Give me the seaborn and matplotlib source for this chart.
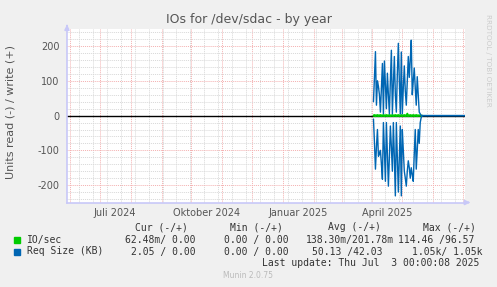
import matplotlib
matplotlib.use("Agg")
import matplotlib.pyplot as plt
import matplotlib.dates as mdates
from matplotlib.ticker import MultipleLocator, NullFormatter, FuncFormatter
from matplotlib.patches import Rectangle
import seaborn as sns
import pandas as pd

# ---------------- data ----------------
TITLE = "IOs for /dev/sdac - by year"
YLABEL = "Units read (-) / write (+)"
X_START = "2024-05-29"
X_END = "2025-07-03"

# daily samples (Apr 2 2025 .. May 21 2025), then flat to end
DATA_START = "2025-04-02"
DATA_END = "2025-05-21"
TAIL_DATE = "2025-07-03"

req_write = [40, 110, 184, 30, 100, 84, 60, 10, 80, 150,
             5, 157, 90, 20, 122, 60, 5, 100, 188, 5,
             90, 170, 60, 10, 120, 208, 100, 5, 183, 5,
             80, 143, 70, 30, 100, 170, 110, 160, 217, 60,
             100, 137, 80, 30, 112, 60, 10, 5, 0, 0]
req_read = [-10, -77, -154, -90, -40, -117, -110, -100, -140, -183,
            -20, -100, -189, -20, -110, -203, -120, -30, -90, -160,
            -20, -120, -231, -20, -120, -220, -120, -30, -231, -40,
            -100, -160, -180, -203, -160, -130, -150, -180, -150, -170,
            -189, -110, -40, -154, -100, -40, -80, -20, -5, 0]
io_write = [1, 2, 1, 1, 2, 1, 1, 2, 1, 1,
            2, 1, 1, 2, 1, 1, 2, 1, 1, 2,
            1, 1, 2, 1, 1, 2, 1, 1, 2, 1,
            1, 2, 1, 1, 6, 1, 1, 2, 1, 1,
            2, 1, 1, 2, 1, 1, 1, 1, 0, 0]
io_read = [-1, -1, -2, -1, -1, -2, -1, -1, -2, -1,
           -1, -2, -1, -1, -2, -1, -1, -2, -1, -1,
           -2, -1, -1, -2, -1, -1, -2, -1, -1, -2,
           -1, -1, -2, -1, -1, -2, -1, -1, -2, -1,
           -1, -2, -1, -1, -2, -1, -1, -1, 0, 0]

month_labels = ["Juli 2024", "Oktober 2024", "Januar 2025", "April 2025"]
month_label_dates = ["2024-07-16", "2024-10-16", "2025-01-16", "2025-04-16"]

legend_header = ["Cur (-/+)", "Min (-/+)", "Avg (-/+)", "Max (-/+)"]
legend_names = ["IO/sec", "Req Size (KB)"]
legend_rows = [["62.48m/ 0.00", "0.00 / 0.00", "138.30m/201.78m", "114.46 /96.57"],
               ["2.05 / 0.00", "0.00 / 0.00", "50.13 /42.03", "1.05k/ 1.05k"]]
last_update = "Last update: Thu Jul  3 00:00:08 2025"
footer = "Munin 2.0.75"
side_text = "RRDTOOL / TOBI OETIKER"

GREEN = "#00CC00"
BLUE = "#0066B3"

# ---------------- figure ----------------
sns.set_theme(style="white")
plt.rcParams['font.family'] = ['DejaVu Sans']
plt.rcParams['axes.unicode_minus'] = False

W, H = 497, 287
fig = plt.figure(figsize=(W / 100, H / 100), dpi=100, facecolor="#F0F0F0")
L, R, T, B = 67, 465, 28.7, 202.5
ax = fig.add_axes([L / W, 1 - B / H, (R - L) / W, (B - T) / H])
ax.set_facecolor("white")

days = list(pd.date_range(DATA_START, DATA_END, freq="D"))
df_io = pd.DataFrame({"date": days, "io_w": io_write, "io_r": io_read})
df_req = pd.DataFrame({
    "date": days + [pd.Timestamp(TAIL_DATE)],
    "req_w": req_write + [0],
    "req_r": req_read + [0],
})

ax.axhline(0, color="black", lw=1.0, zorder=2)
sns.lineplot(data=df_io, x="date", y="io_w", color=GREEN, lw=1.2, ax=ax, zorder=3, legend=False)
sns.lineplot(data=df_io, x="date", y="io_r", color=GREEN, lw=1.2, ax=ax, zorder=3, legend=False)
sns.lineplot(data=df_req, x="date", y="req_w", color=BLUE, lw=1.0, ax=ax, zorder=4, legend=False)
sns.lineplot(data=df_req, x="date", y="req_r", color=BLUE, lw=1.0, ax=ax, zorder=4, legend=False)

ax.set_xlim(pd.Timestamp(X_START), pd.Timestamp(X_END))
ax.set_ylim(-250, 250)
ax.set_xlabel("")
ax.set_ylabel("")

# grid
ax.xaxis.set_major_locator(mdates.MonthLocator())
ax.xaxis.set_minor_locator(mdates.WeekdayLocator(byweekday=mdates.MO, interval=2))
ax.xaxis.set_major_formatter(NullFormatter())
ax.xaxis.set_minor_formatter(NullFormatter())
ax.yaxis.set_major_locator(MultipleLocator(100))
ax.yaxis.set_minor_locator(MultipleLocator(20))
ax.yaxis.set_major_formatter(FuncFormatter(lambda v, p: f"{int(v)}"))
ax.set_axisbelow(True)
ax.grid(True, which="major", color="#F4B0B0", linestyle=(0, (1, 1)), linewidth=0.7)
ax.grid(True, which="minor", color="#D8D8D8", linestyle=(0, (1, 1)), linewidth=0.7)

ax.tick_params(axis="both", which="major", direction="inout", length=3, width=0.7,
               colors="#F08080", labelcolor="#555555", labelsize=7)
ax.tick_params(axis="both", which="minor", direction="inout", length=2, width=0.7,
               colors="#C0C0C0")
ax.tick_params(axis="y", which="major", pad=4)
ax.tick_params(axis="x", which="both", labelbottom=False)

for s in ["top", "right"]:
    ax.spines[s].set_visible(False)
for s in ["left", "bottom"]:
    ax.spines[s].set_color("#C8C8F8")
    ax.spines[s].set_linewidth(1.2)

# axis arrows
ax.annotate("", xy=(1.02, 0), xytext=(1.0, 0), xycoords="axes fraction",
            arrowprops=dict(arrowstyle="-|>", color="#C8C8F8", lw=1.2, mutation_scale=7),
            annotation_clip=False)
ax.annotate("", xy=(0, 1.04), xytext=(0, 1.0), xycoords="axes fraction",
            arrowprops=dict(arrowstyle="-|>", color="#C8C8F8", lw=1.2, mutation_scale=7),
            annotation_clip=False)

# month labels
xt = ax.get_xaxis_transform()
for d, lab in zip(month_label_dates, month_labels):
    ax.text(pd.Timestamp(d), -0.058, lab, transform=xt, ha="center", va="center",
            fontsize=7, color="#555555")

def ftext(x, y, s, **kw):
    fig.text(x / W, 1 - y / H, s, **kw)

ftext(249, 19, TITLE, ha="center", va="center", fontsize=9, color="#555555")
ftext(11, 112, YLABEL, ha="center", va="center", rotation=90, fontsize=8, color="#555555")
ftext(488, 14, side_text, ha="center", va="top", rotation=270, fontsize=5.2, color="#CCCCCC")

mono = dict(family="DejaVu Sans Mono", fontsize=7.0, color="#333333", va="center", ha="left")
head_x = [135, 230, 328, 423]
for x, s in zip(head_x, legend_header):
    ftext(x, 227, s, **mono)
row_x = [[125, 224, 306, 398], [131, 224, 312, 412]]
row_y = [239.5, 251.5]
for name, col, xs, vals, y in zip(legend_names, [GREEN, BLUE], row_x, legend_rows, row_y):
    fig.patches.append(Rectangle((13.5 / W, 1 - (y + 3.5) / H), 6.5 / W, 6.5 / H,
                                 transform=fig.transFigure, color=col))
    ftext(27, y, name, **mono)
    for x, s in zip(xs, vals):
        ftext(x, y, s, **mono)
ftext(262, 263.5, last_update, **mono)
ftext(248, 276, footer, ha="center", va="center", fontsize=5.5, color="#BBBBBB")

fig.savefig("out.png", dpi=100, facecolor=fig.get_facecolor())
